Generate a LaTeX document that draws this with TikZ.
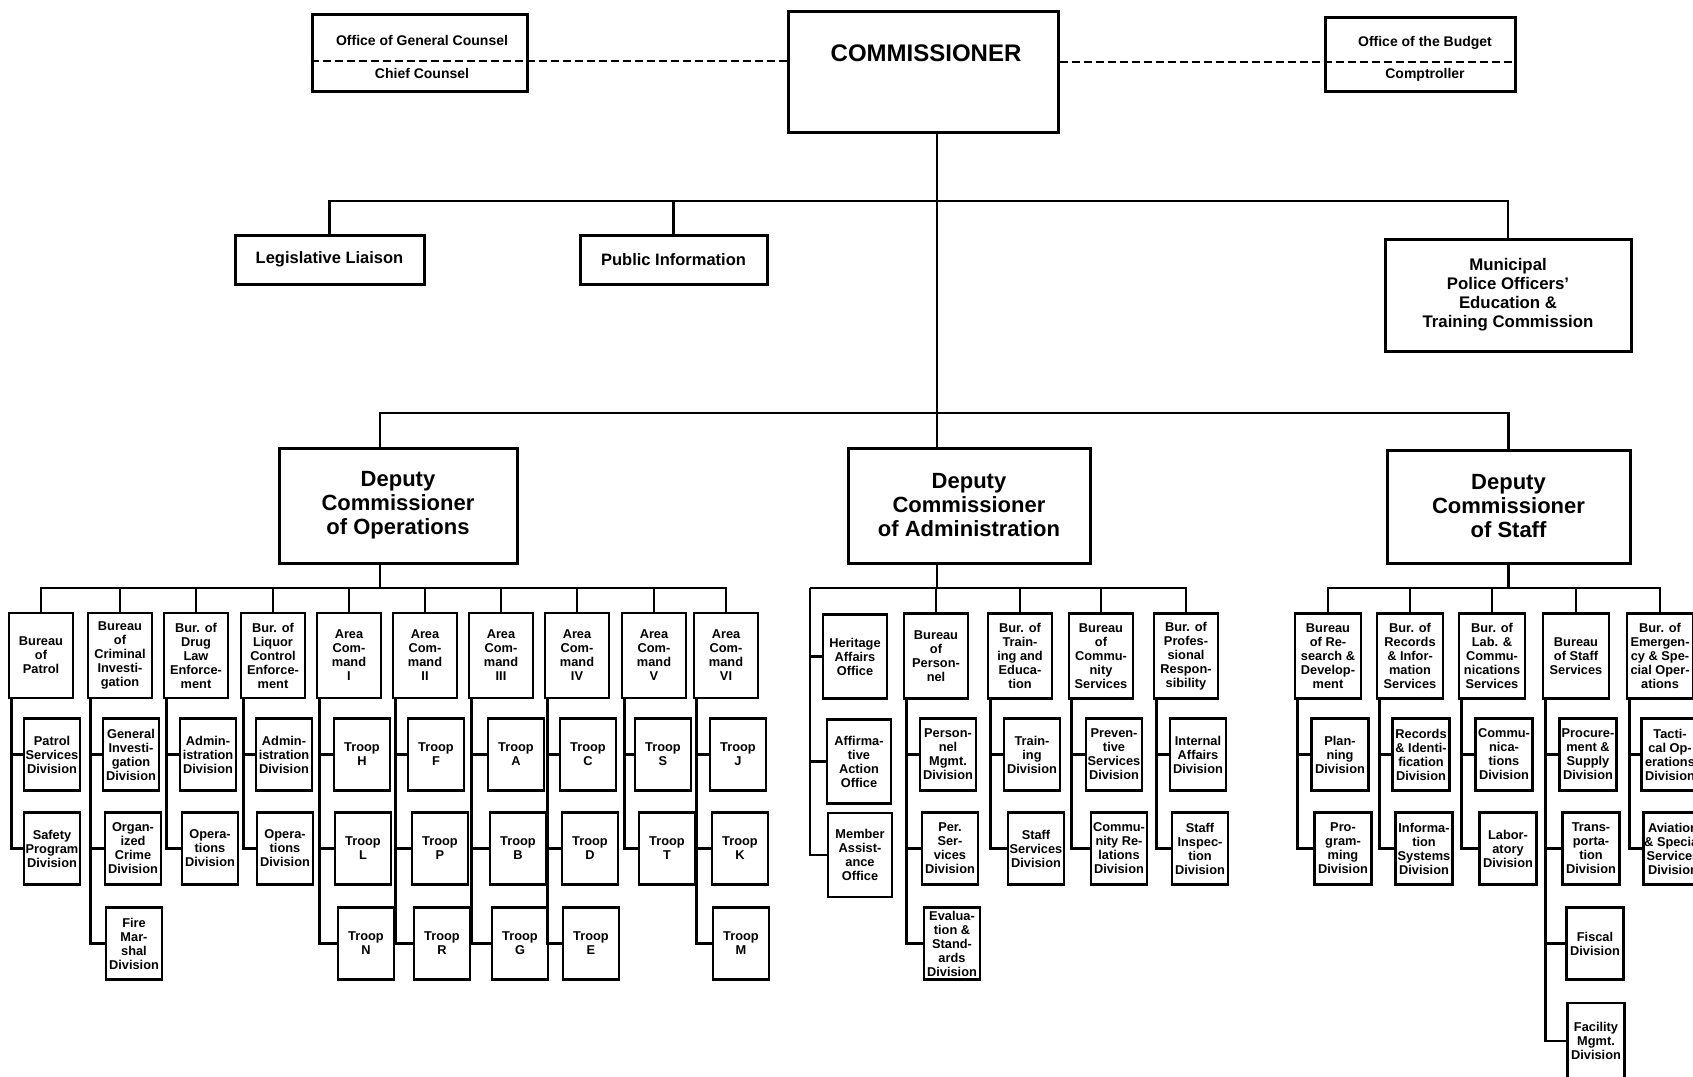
\documentclass[tikz,border=0pt]{standalone}
\usepackage{fontspec}
\setmainfont{Liberation Sans}
\hyphenpenalty=10000
\begin{document}
\begin{tikzpicture}[x=1pt,y=-1pt,
  wire/.style={line width=2.6pt},
  box/.style={draw, line width=2.6pt, align=center, inner sep=1pt,
    font=\bfseries\fontsize{12.8}{14}\selectfont},
  topbox/.style={box, minimum width=64pt, minimum height=85pt},
  subbox/.style={box, minimum width=56pt, minimum height=72pt},
  stopbox/.style={box, minimum width=66pt, minimum height=85pt},
  ssubbox/.style={box, minimum width=57pt, minimum height=72pt},
  bigbox/.style={draw, line width=3pt, align=center, inner sep=2pt},
  midtext/.style={font=\bfseries\fontsize{16.5}{19}\selectfont},
  deptext/.style={font=\bfseries\fontsize{22}{24}\selectfont},
  smalltop/.style={font=\bfseries\fontsize{14}{16}\selectfont},
  dashline/.style={line width=2pt, dash pattern=on 8pt off 4pt},
]
\useasboundingbox (0,0) rectangle (1693,1076);
\clip (0,0) rectangle (1693,1076);
\fill[white] (0,0) rectangle (1693,1076);

% ---------- levels of the chart ----------
\coordinate (dl) at (0,61);
\coordinate (dr) at (0,62);
\coordinate (bar1) at (0,201);
\coordinate (bar2) at (0,413);
\coordinate (opsbar) at (0,588);
\coordinate (admbar) at (0,588);
\coordinate (stfbar) at (0,588);
\coordinate (hertr) at (810,588);

% ---------- head office ----------
\node[bigbox, minimum width=270pt, minimum height=121pt] (com) at (923,71.5) {};
\node[font=\bfseries\fontsize{24}{26}\selectfont] (comtxt) at (926,53) {COMMISSIONER};

\node[bigbox, minimum width=215pt, minimum height=77pt] (gc) at (419.5,52.5) {};
\node[smalltop] (gct) at (422,40) {Office of General Counsel};
\node[smalltop] (gcb) at (422,73) {Chief Counsel};

\node[bigbox, minimum width=190pt, minimum height=74pt] (bud) at (1420,54) {};
\node[smalltop] (budt) at (1425,43) {Office of the Budget};
\node[smalltop] (budb) at (1425,75) {Comptroller};

\draw[dashline] (gc.west |- dl) -- (com.west |- dl);
\draw[dashline] (com.east |- dr) -- (bud.east |- dr);

% ---------- staff offices ----------
\node[bigbox, midtext, minimum width=189pt, minimum height=49pt] (leg) at (329.5,259.5) {Legislative Liaison};
\node[bigbox, midtext, minimum width=187pt, minimum height=49pt] (pub) at (673.5,259.5) {Public Information};
\node[bigbox, font=\bfseries\fontsize{16.8}{19}\selectfont, minimum width=246pt, minimum height=112pt] (mun) at (1508,295)
  {Municipal\\Police Officers'\\Education \&\\Training Commission};

\draw[wire] (leg.north) -- (leg.north |- bar1) -- (mun.north |- bar1) -- (mun.north);
\draw[wire] (pub.north) -- (pub.north |- bar1);

% ---------- deputy commissioners ----------
\node[bigbox, deptext, minimum width=238pt, minimum height=115pt] (opsdep) at (398,505.5) {Deputy\\Commissioner\\of Operations};
\node[bigbox, deptext, minimum width=242pt, minimum height=115pt] (admdep) at (969,505.5) {Deputy\\Commissioner\\of Administration};
\node[bigbox, deptext, minimum width=243pt, minimum height=113pt] (stfdep) at (1508.5,506.5) {Deputy\\Commissioner\\of Staff};

\draw[wire] ([xshift=14pt]com.south) -- ([xshift=14pt]com.south |- admdep.north);
\draw[wire] ([xshift=-18pt]opsdep.north) -- ([xshift=-18pt]opsdep.north |- bar2) -- (stfdep.north |- bar2) -- (stfdep.north);

% ---------- operations ----------
\node[topbox] (pat)   at (41,655.5)  {Bureau\\of\\Patrol};
\node[topbox] (cri)   at (120,655.5) {Bureau\\of\\Criminal\\Investi-\\gation};
\node[topbox] (drg)   at (196,655.5) {Bur. of\\Drug\\Law\\Enforce-\\ment};
\node[topbox] (liq)   at (273,655.5) {Bur. of\\Liquor\\Control\\Enforce-\\ment};
\node[topbox] (aci)   at (349,655.5) {Area\\Com-\\mand\\I};
\node[topbox] (acii)  at (425,655.5) {Area\\Com-\\mand\\II};
\node[topbox] (aciii) at (501,655.5) {Area\\Com-\\mand\\III};
\node[topbox] (aciv)  at (577,655.5) {Area\\Com-\\mand\\IV};
\node[topbox] (acv)   at (654,655.5) {Area\\Com-\\mand\\V};
\node[topbox] (acvi)  at (726,655.5) {Area\\Com-\\mand\\VI};

\node[subbox] (pat1) at (52,754.5) {Patrol\\Services\\Division};
\node[subbox] (pat2) at (52,848.5) {Safety\\Program\\Division};
\node[subbox] (cri1) at (131,754.5) {General\\Investi-\\gation\\Division};
\node[subbox] (cri2) at (133,848.5) {Organ-\\ized\\Crime\\Division};
\node[subbox] (cri3) at (134,943.5) {Fire\\Mar-\\shal\\Division};
\node[subbox] (drg1) at (208,754.5) {Admin-\\istration\\Division};
\node[subbox] (drg2) at (210,848.5) {Opera-\\tions\\Division};
\node[subbox] (liq1) at (284,754.5) {Admin-\\istration\\Division};
\node[subbox] (liq2) at (285,848.5) {Opera-\\tions\\Division};
\node[subbox] (aci1) at (362,754.5) {Troop\\H};
\node[subbox] (aci2) at (363,848.5) {Troop\\L};
\node[subbox] (aci3) at (366,943.5) {Troop\\N};
\node[subbox] (acii1) at (436,754.5) {Troop\\F};
\node[subbox] (acii2) at (440,848.5) {Troop\\P};
\node[subbox] (acii3) at (442,943.5) {Troop\\R};
\node[subbox] (aciii1) at (516,754.5) {Troop\\A};
\node[subbox] (aciii2) at (518,848.5) {Troop\\B};
\node[subbox] (aciii3) at (520,943.5) {Troop\\G};
\node[subbox] (aciv1) at (588,754.5) {Troop\\C};
\node[subbox] (aciv2) at (590,848.5) {Troop\\D};
\node[subbox] (aciv3) at (591,943.5) {Troop\\E};
\node[subbox] (acv1) at (663,754.5) {Troop\\S};
\node[subbox] (acv2) at (667,848.5) {Troop\\T};
\node[subbox] (acvi1) at (738,754.5) {Troop\\J};
\node[subbox] (acvi2) at (740,848.5) {Troop\\K};
\node[subbox] (acvi3) at (741,943.5) {Troop\\M};

\draw[wire] ([xshift=-18pt]opsdep.south) -- ([xshift=-18pt]opsdep.south |- opsbar);
\draw[wire] (pat.north) -- (pat.north |- opsbar) -- (acvi.north |- opsbar) -- (acvi.north);
\foreach \n in {cri,drg,liq,aci,acii,aciii,aciv,acv}
  \draw[wire] (\n.north) -- (\n.north |- opsbar);
\foreach \t/\s in {pat/pat1,pat/pat2,cri/cri1,cri/cri2,cri/cri3,drg/drg1,drg/drg2,
    liq/liq1,liq/liq2,aci/aci1,aci/aci2,aci/aci3,acii/acii1,acii/acii2,acii/acii3,
    aciii/aciii1,aciii/aciii2,aciii/aciii3,aciv/aciv1,aciv/aciv2,aciv/aciv3,
    acv/acv1,acv/acv2,acvi/acvi1,acvi/acvi2,acvi/acvi3}
  \draw[wire] ([xshift=4pt]\t.south west) |- (\s.west);

% ---------- administration ----------
\node[topbox, minimum height=84pt] (her1) at (855,656.5) {Heritage\\Affairs\\Office};
\node[topbox, minimum height=84pt] (her2) at (859,761.5) {Affirma-\\tive\\Action\\Office};
\node[topbox, minimum height=84pt] (her3) at (860,855) {Member\\Assist-\\ance\\Office};
\node[topbox] (per) at (936,656) {Bureau\\of\\Person-\\nel};
\node[topbox] (trn) at (1020,656) {Bur. of\\Train-\\ing and\\Educa-\\tion};
\node[topbox] (cms) at (1101,656) {Bureau\\of\\Commu-\\nity\\Services};
\node[topbox] (pro) at (1186,656) {Bur. of\\Profes-\\sional\\Respon-\\sibility};

\node[subbox] (per1) at (948,754.5) {Person-\\nel\\Mgmt.\\Division};
\node[subbox] (per2) at (950,848.5) {Per.\\Ser-\\vices\\Division};
\node[subbox] (per3) at (952,943.5) {Evalua-\\tion \&\\Stand-\\ards\\Division};
\node[subbox] (trn1) at (1032,754.5) {Train-\\ing\\Division};
\node[subbox] (trn2) at (1036,848.5) {Staff\\Services\\Division};
\node[subbox] (cms1) at (1114,754.5) {Preven-\\tive\\Services\\Division};
\node[subbox] (cms2) at (1119,848.5) {Commu-\\nity Re-\\lations\\Division};
\node[subbox] (pro1) at (1198,754.5) {Internal\\Affairs\\Division};
\node[subbox] (pro2) at (1200,848.5) {Staff\\Inspec-\\tion\\Division};

\draw[wire] ([xshift=-32pt]admdep.south) -- ([xshift=-32pt]admdep.south |- admbar);
\draw[wire] (hertr) -- (pro.north |- admbar) -- (pro.north);
\foreach \n in {per,trn,cms}
  \draw[wire] (\n.north) -- (\n.north |- admbar);
\foreach \s in {her1,her2,her3}
  \draw[wire] (hertr) |- (\s.west);
\foreach \t/\s in {per/per1,per/per2,per/per3,trn/trn1,trn/trn2,
    cms/cms1,cms/cms2,pro/pro1,pro/pro2}
  \draw[wire] ([xshift=4pt]\t.south west) |- (\s.west);

% ---------- staff ----------
\node[stopbox] (res) at (1328,656) {Bureau\\of Re-\\search \&\\Develop-\\ment};
\node[stopbox] (rec) at (1410,656) {Bur. of\\Records\\\& Infor-\\mation\\Services};
\node[stopbox] (lab) at (1492,656) {Bur. of\\Lab. \&\\Commu-\\nications\\Services};
\node[stopbox] (sts) at (1576,656) {Bureau\\of Staff\\Services};
\node[stopbox] (emg) at (1660,656) {Bur. of\\Emergen-\\cy \& Spe-\\cial Oper-\\ations};

\node[ssubbox] (res1) at (1340,754.5) {Plan-\\ning\\Division};
\node[ssubbox] (res2) at (1343,848.5) {Pro-\\gram-\\ming\\Division};
\node[ssubbox] (rec1) at (1421,754.5) {Records\\\& Identi-\\fication\\Division};
\node[ssubbox] (rec2) at (1424,848.5) {Informa-\\tion\\Systems\\Division};
\node[ssubbox] (lab1) at (1504,754.5) {Commu-\\nica-\\tions\\Division};
\node[ssubbox] (lab2) at (1508,848.5) {Labor-\\atory\\Division};
\node[ssubbox] (sts1) at (1588,754.5) {Procure-\\ment \&\\Supply\\Division};
\node[ssubbox] (sts2) at (1591,848.5) {Trans-\\porta-\\tion\\Division};
\node[ssubbox] (sts3) at (1595,943.5) {Fiscal\\Division};
\node[ssubbox, minimum height=76pt] (sts4) at (1596,1041) {Facility\\Mgmt.\\Division};
\node[ssubbox] (emg1) at (1670,754.5) {Tacti-\\cal Op-\\erations\\Division};
\node[ssubbox] (emg2) at (1673,848.5) {Aviation\\\& Special\\Services\\Division};

\draw[wire] (stfdep.south) -- (stfdep.south |- stfbar);
\draw[wire] (res.north) -- (res.north |- stfbar) -- (emg.north |- stfbar) -- (emg.north);
\foreach \n in {rec,lab,sts}
  \draw[wire] (\n.north) -- (\n.north |- stfbar);
\foreach \t/\s in {res/res1,res/res2,rec/rec1,rec/rec2,lab/lab1,lab/lab2,
    sts/sts1,sts/sts2,sts/sts3,sts/sts4,emg/emg1,emg/emg2}
  \draw[wire] ([xshift=4pt]\t.south west) |- (\s.west);
\end{tikzpicture}
\end{document}
